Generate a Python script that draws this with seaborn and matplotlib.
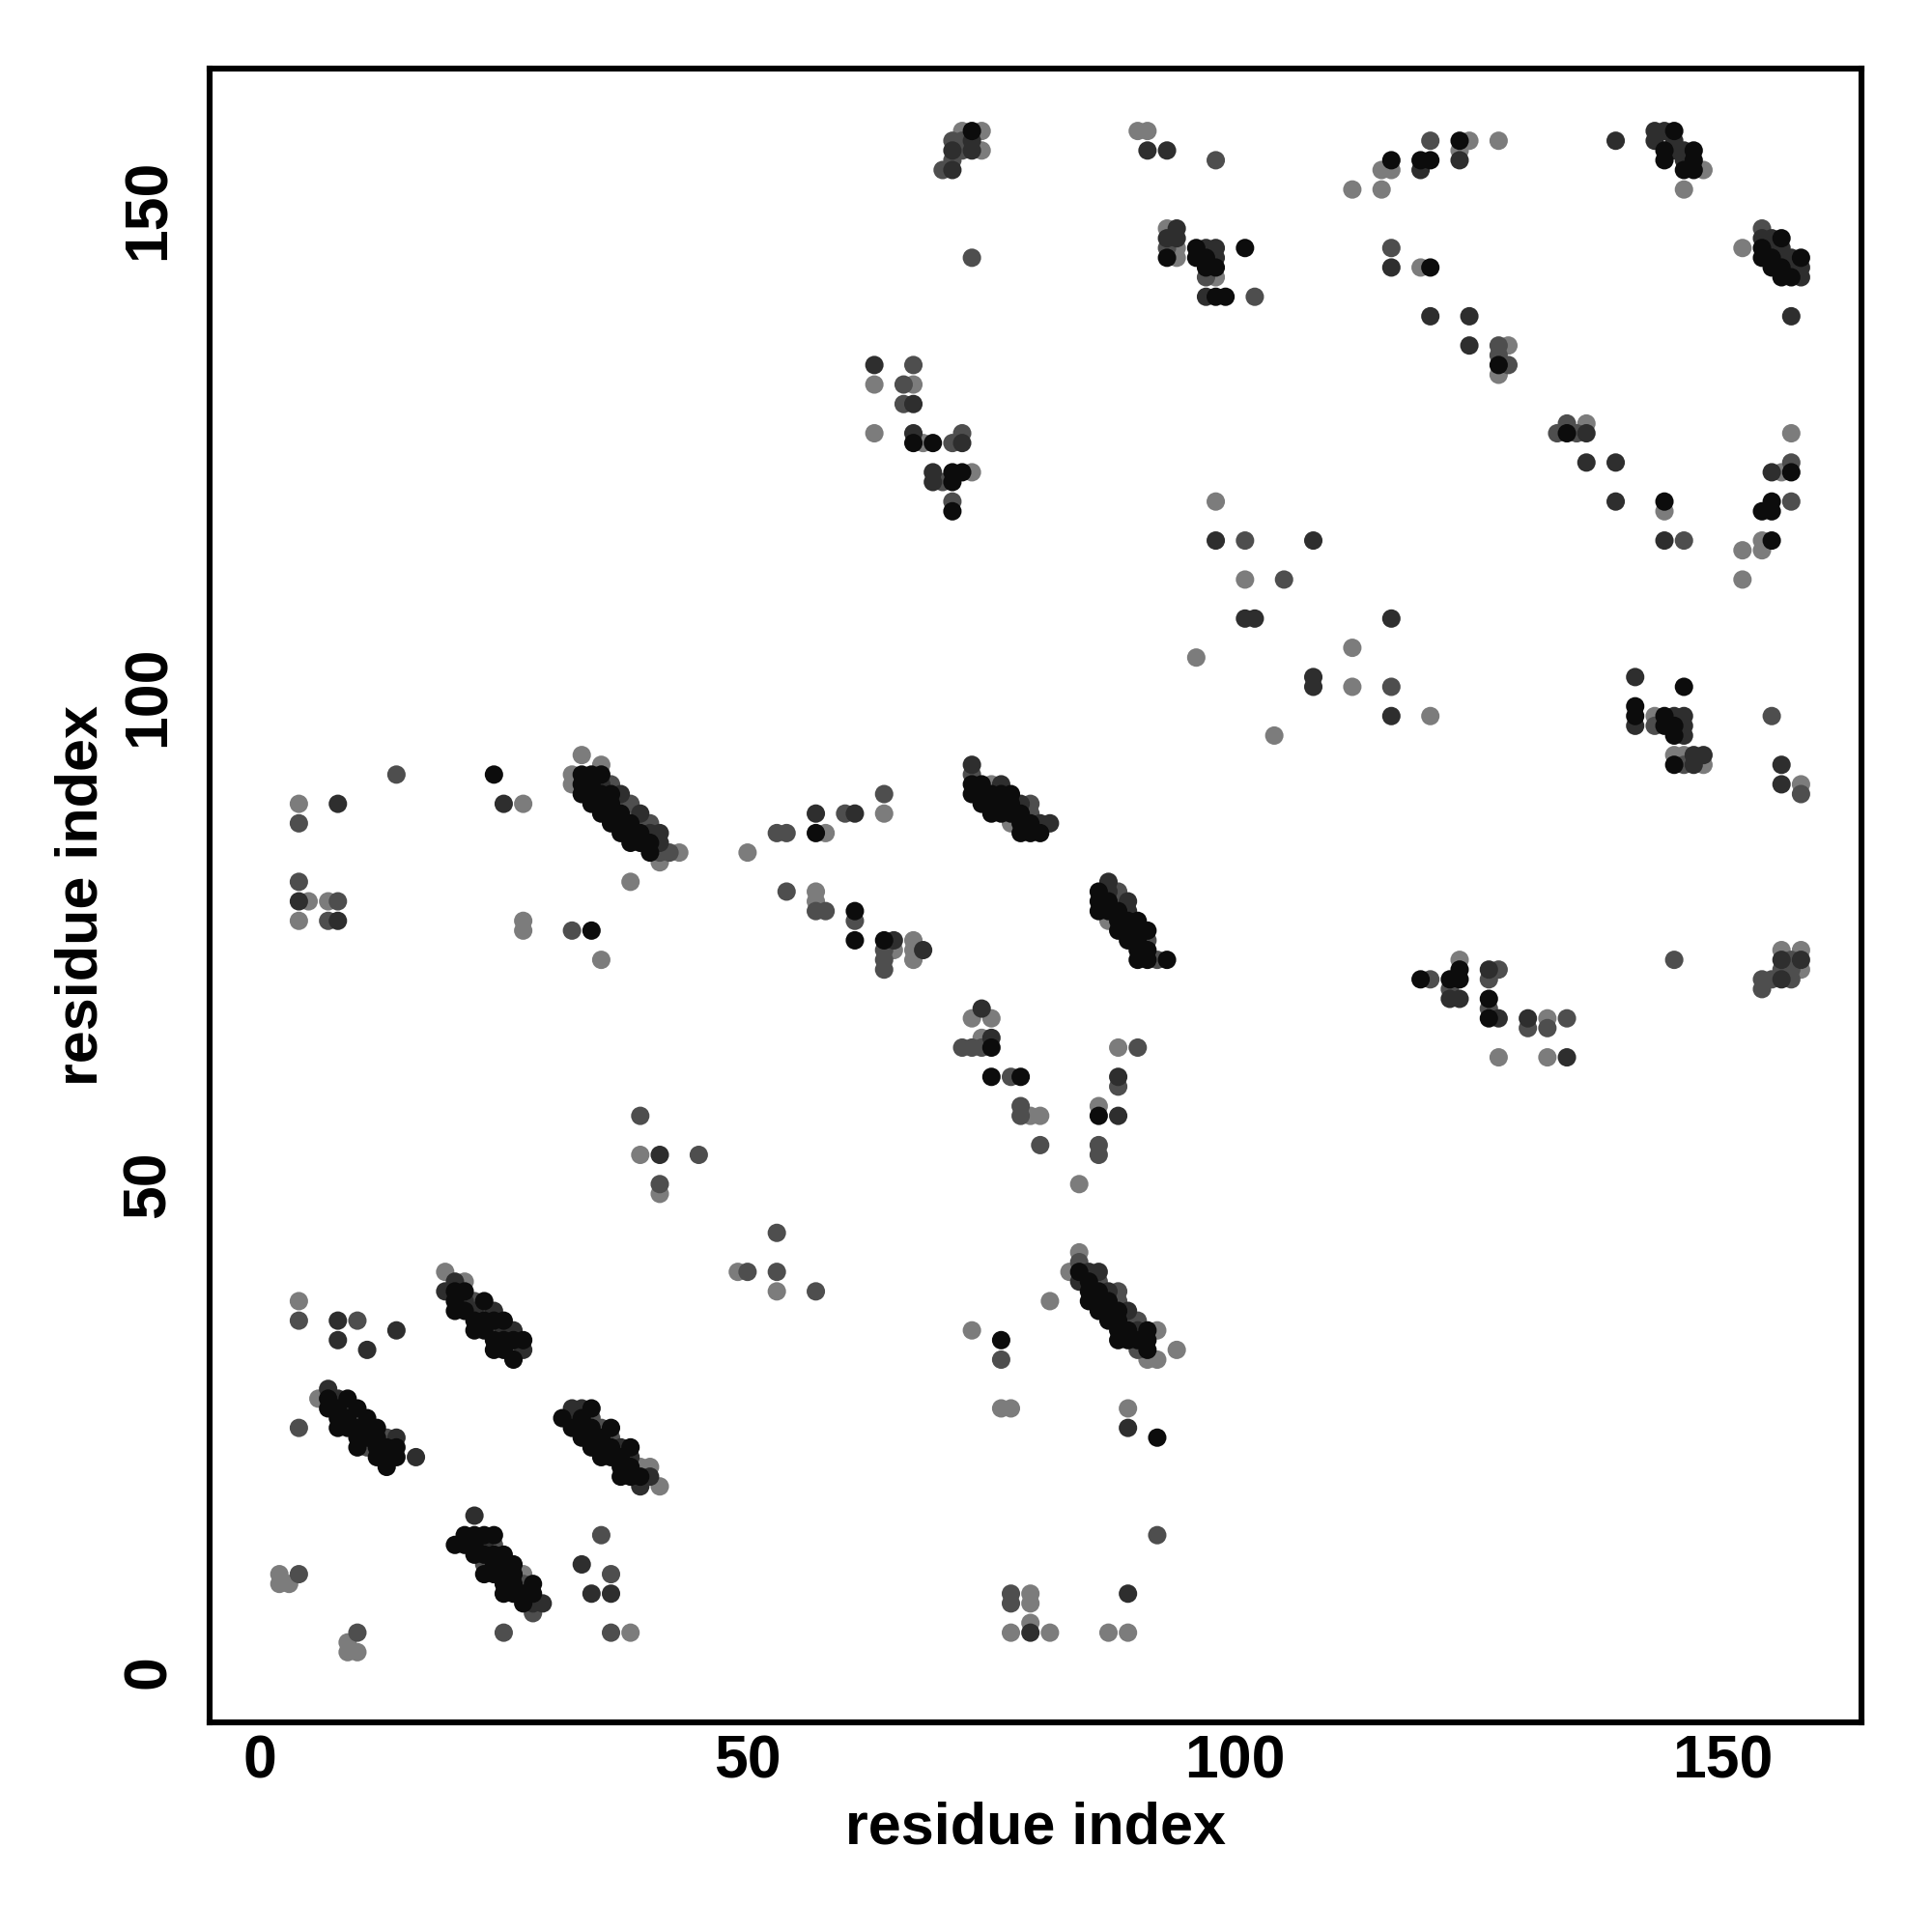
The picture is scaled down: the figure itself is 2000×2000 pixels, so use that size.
import matplotlib
matplotlib.use("Agg")
import matplotlib.pyplot as plt
import pandas as pd
import seaborn as sns

# contacts (residue i, residue j), grouped by grey level of the dot
pairs_k = [
    (7,28),(7,27),(8,27),(8,26),(8,25),(9,28),(9,26),(9,25),(10,27),(10,25),(10,24),(10,23),
    (11,26),(11,25),(11,24),(12,25),(12,24),(12,23),(12,22),(13,23),(13,22),(13,21),(14,23),(14,22),
    (20,39),(20,38),(21,39),(20,37),(21,37),(23,38),(22,36),(23,36),(22,35),(24,36),(23,35),(25,36),
    (24,34),(24,33),(25,34),(25,33),(26,34),(26,32),(27,34),
    (31,26),(32,25),(33,26),(33,25),(33,24),(34,27),(34,25),(34,24),(34,23),(35,24),(35,23),(35,22),
    (36,25),(36,23),(36,22),(37,22),(37,21),(37,20),(38,23),(38,21),(38,20),(39,20),
    (20,13),(21,14),(21,13),(22,14),(22,13),(22,12),(23,14),(23,12),(23,10),(24,14),(24,12),(24,11),
    (24,10),(25,12),(25,11),(25,10),(25,9),(25,8),(26,11),(26,10),(26,9),(26,8),(27,8),(27,7),(28,9),(28,8),
    (76,34),(92,24),
    (84,41),(85,40),(85,39),(86,39),(85,38),(86,38),(87,38),(86,37),(87,37),(88,37),(87,36),(88,36),
    (88,35),(89,35),(91,35),(88,34),(89,34),(90,34),(91,34),(91,33),
    (24,92),(34,76),
    (33,92),(33,91),(33,90),(34,92),(34,91),(34,90),(34,89),(35,92),(35,90),(35,89),(35,88),(36,90),
    (36,89),(36,88),(36,87),(37,88),(37,87),(37,86),(38,87),(38,86),(38,85),(39,86),(39,85),(40,85),(40,84),
    (57,86),(61,78),(61,75),(64,75),(75,64),(75,61),(78,61),(86,57),
    (73,91),(73,90),(74,91),(74,90),(74,89),(75,90),(75,89),(75,88),(76,90),(76,89),(76,88),(77,90),
    (77,89),(77,88),(78,88),(78,87),(78,86),(79,87),(79,86),(80,86),
    (86,80),(86,79),(86,78),(87,79),(87,78),(88,78),(88,77),(88,76),(89,77),(89,76),(89,75),(90,77),
    (90,76),(90,75),(90,74),(90,73),(91,76),(91,74),(91,73),(93,73),
    (146,101),(141,99),(141,98),(144,98),(144,97),(145,97),(145,96),(145,93),(119,71),(122,71),
    (123,72),(123,71),(126,69),(126,67),
    (73,158),(93,145),(96,146),(96,145),(97,145),(97,144),(98,144),(101,146),(98,141),(99,141),
    (67,126),(69,126),(71,123),(71,122),(72,123),(71,119),
    (123,157),(116,155),(119,155),(120,155),(120,144),(127,134),(145,158),(144,156),(147,156),(147,155),
    (144,155),(146,154),(147,154),(154,146),(154,145),(155,145),(155,144),(156,147),(156,144),(156,143),
    (157,143),(158,145),(134,127),(144,120),(157,123),(155,120),(154,119),(155,119),(155,116),
]

pairs_d = [
    (41,53),(8,36),(8,34),(11,33),(14,35),(33,11),(34,8),(36,8),
    (7,29),(8,28),(14,24),(16,22),
    (20,40),(19,39),(21,38),(22,37),(24,37),(25,35),(26,35),(27,33),
    (32,27),(32,26),(33,27),(37,23),(38,22),(39,19),(40,20),
    (22,16),(23,13),(28,7),(29,7),
    (89,25),(79,4),(89,8),
    (85,41),(86,41),(84,40),(87,39),(89,37),(90,35),
    (25,89),(8,89),(4,79),(8,77),
    (35,91),(37,90),(39,88),(40,86),(41,86),(41,85),
    (57,88),(61,88),(65,75),(68,74),(74,68),(75,65),(88,61),(88,57),
    (73,93),(76,91),(78,89),(80,87),(81,87),
    (87,81),(87,80),(89,79),(89,78),
    (108,102),(108,101),(116,98),(156,93),(156,91),(134,63),(141,102),(141,97),(145,98),(146,98),
    (146,97),(146,96),(147,94),(148,94),(147,93),(122,69),(123,69),(126,72),(127,67),(130,67),
    (156,73),(158,73),(156,71),
    (71,154),(71,156),(73,157),(73,156),(91,156),(93,156),(94,148),(93,147),(94,147),(97,146),
    (98,146),(98,145),(97,141),(63,134),(67,130),(67,127),(72,126),(69,123),(69,122),(98,116),
    (101,108),(102,108),
    (123,155),(119,154),(116,144),(120,139),(124,139),(124,136),(139,157),(143,158),(144,158),(143,157),
    (145,156),(146,155),(145,157),(146,156),(154,147),(155,147),(155,146),(156,146),(156,145),(157,145),
    (157,144),(158,144),(158,143),(157,139),(136,127),(136,124),(139,124),(139,120),(144,116),(155,123),
    (108,116),(116,108),
]

pairs_m = [
    (45,53),(41,50),(50,41),(4,36),(10,36),(4,25),(4,10),(10,4),(25,4),(36,4),(35,14),(36,10),
    (9,27),(11,23),(13,24),
    (22,38),(23,37),(24,35),(26,33),
    (34,26),(35,25),(36,24),
    (24,13),(27,9),(28,6),(23,11),
    (53,45),(53,41),(57,39),(76,32),(92,14),(77,8),(77,7),
    (84,42),(86,40),(88,39),(88,38),(89,36),(90,36),(90,33),
    (14,92),(4,87),(4,81),(8,79),(7,77),(32,76),(39,57),
    (36,91),(37,89),(38,89),(39,87),(40,87),(41,84),(42,84),
    (64,90),(60,88),(53,86),(54,86),(54,80),(57,78),(58,78),(61,77),(64,74),(64,73),(64,72),(72,64),
    (73,64),(74,64),(77,61),(78,58),(78,57),(80,54),(90,64),(88,60),(86,54),(86,53),
    (73,92),(79,89),(79,88),
    (88,80),(88,79),(91,75),(92,73),
    (116,101),(155,98),(158,90),(145,73),(143,97),(146,93),(120,71),(122,70),(127,72),(126,71),
    (126,68),(130,66),(132,66),(134,67),(157,73),(157,72),(156,72),(155,71),(157,71),(154,71),(154,70),
    (70,154),(71,155),(71,157),(72,156),(72,157),(73,145),(98,155),(93,146),(97,143),(102,141),
    (67,134),(66,132),(66,130),(71,126),(72,127),(70,122),(71,120),(101,116),(105,112),
    (120,157),(116,146),(127,136),(127,135),(128,134),(154,148),(133,127),(134,128),(135,127),
    (146,116),(157,124),(157,120),
]

pairs_g = [
    (39,53),(41,49),(49,41),(4,38),(2,10),(2,9),(3,9),(9,3),(9,2),(10,2),(38,4),
    (6,28),(10,26),(19,41),(21,40),(39,21),(40,21),(41,19),(27,10),
    (84,50),(53,39),(81,38),(73,35),(76,27),(77,27),(89,27),(79,8),(79,7),(79,5),(77,4),(81,4),
    (87,4),(89,4),
    (84,43),(83,41),(92,35),(94,33),(91,32),(92,32),
    (27,89),(4,89),(5,79),(7,79),(4,77),(27,77),(27,76),(35,73),(38,81),(50,84),
    (32,92),(32,91),(33,94),(35,93),(38,88),(41,83),(43,84),
    (96,104),(104,96),(64,88),(58,86),(57,80),(57,79),(65,74),(67,75),(67,74),(67,73),(73,67),
    (75,67),(74,65),(79,57),(80,57),(88,64),(86,58),
    (75,91),(77,87),(87,77),
    (112,105),(112,101),(120,98),(158,91),(127,63),(132,63),(143,98),(145,94),(146,94),(148,93),
    (123,73),(132,67),(156,74),(158,74),(158,72),
    (72,158),(74,158),(74,156),(90,158),(91,158),(93,148),(94,146),(94,145),(98,143),(63,132),
    (67,132),(63,127),(68,126),(73,123),(98,120),(101,112),
    (124,157),(127,157),(123,156),(115,154),(116,154),(112,152),(115,152),(119,144),(128,136),
    (127,133),(148,154),(146,152),(152,146),(136,128),(144,119),(157,127),(156,123),(154,116),
    (152,115),(154,115),(152,112),
]

tick_values = [0, 50, 100, 150]
grey_levels = {"g": "#7c7c7c", "m": "#4e4e4e", "d": "#2e2e2e", "k": "#0c0c0c"}

frames = []
for level, pairs in [("g", pairs_g), ("m", pairs_m), ("d", pairs_d), ("k", pairs_k)]:
    part = pd.DataFrame(pairs, columns=["i", "j"])
    part["level"] = level
    frames.append(part)
df = pd.concat(frames, ignore_index=True)

sns.set_theme(style="white")
plt.rcParams["font.family"] = ["Liberation Sans", "DejaVu Sans"]
plt.rcParams["font.weight"] = "bold"

fig = plt.figure(figsize=(10, 10), dpi=200)
ax = fig.add_axes([0.1085, 0.1085, 0.855, 0.856])

sns.scatterplot(data=df, x="i", y="j", hue="level", palette=grey_levels,
                s=47, linewidth=0, legend=False, ax=ax)

ax.set_xlim(-5.15, 164.2)
ax.set_ylim(-5.2, 164.4)
ax.set_xticks(tick_values)
ax.set_yticks(tick_values)

for sp in ax.spines.values():
    sp.set_visible(True)
    sp.set_color("black")
    sp.set_linewidth(2.2)

ax.tick_params(axis="both", which="major", direction="out", length=3, width=1.2,
               color="black", labelcolor="black", labelsize=22.5)
ax.tick_params(axis="x", pad=1)
ax.tick_params(axis="y", pad=9, labelrotation=90)
for t in ax.get_yticklabels():
    t.set_va("center")
for t in ax.get_xticklabels() + ax.get_yticklabels():
    t.set_fontweight("bold")

ax.set_xlabel("residue index", fontsize=22, fontweight="bold", labelpad=4, color="black")
ax.set_ylabel("residue index", fontsize=22, fontweight="bold", labelpad=4, color="black")

fig.savefig("out.png", dpi=200, facecolor="white")
